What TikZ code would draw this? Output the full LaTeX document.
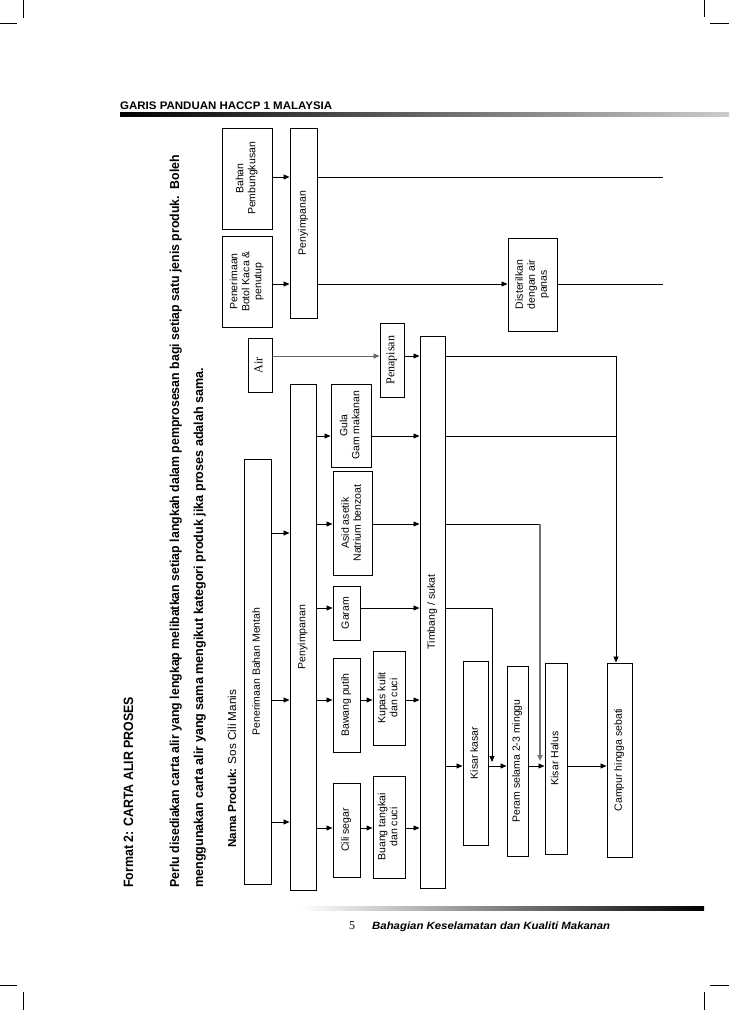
\documentclass[tikz,border=0pt]{standalone}
\usepackage{fontspec}
\setmainfont{Liberation Sans}
\newfontfamily\serifx{Liberation Serif}
\usetikzlibrary{arrows.meta}
\tikzset{
  box/.style={draw, line width=1pt, inner sep=0pt, font=\fontsize{10.5}{12}\selectfont},
  arr/.style={line width=0.9pt, -{Triangle[length=6pt,width=5pt]}},
  ln/.style={line width=0.9pt},
  graylink/.style={draw=black!60},
  crop/.style={line width=0.9pt},
  rottext/.style={rotate=90, anchor=base west, inner sep=0pt},
}
\newcommand\mybox[6]{\node[box, minimum width={(#4-#2)*1pt}, minimum height={(#5-#3)*1pt}] (#1) at ({(#2+#4)/2},{(#3+#5)/2}) {\rotatebox{90}{\begin{tabular}{@{}c@{}}#6\end{tabular}}};}
\begin{document}
\begin{tikzpicture}[x=1pt, y=-1pt]
\useasboundingbox (0,0) rectangle (729,1010);
% crop marks
\draw[crop] (23,0) -- (23,18) (0,23) -- (17,23);
\draw[crop] (704,0) -- (704,17) (710,23) -- (729,23);
\draw[crop] (0,985) -- (17,985) (23,992) -- (23,1010);
\draw[crop] (710,985) -- (729,985) (704,992) -- (704,1010);
% header / footer
\node[anchor=base west, inner sep=0pt, font=\bfseries\fontsize{11}{13}\selectfont] (hdr) at (120,109) {\resizebox{212pt}{\height}{GARIS PANDUAN HACCP 1 MALAYSIA}};
\shade[left color=black, right color=black!20] (120,112) rectangle (729,116);
\shade[left color=white, right color=black] (300,906) rectangle (704,910);
\node[anchor=base west, inner sep=0pt, font=\serifx\fontsize{12}{14}\selectfont] (pg) at (349,929) {5};
\node[anchor=base west, inner sep=0pt, font=\bfseries\itshape\fontsize{10.5}{12}\selectfont] (ftr) at (372,929) {\resizebox{238pt}{\height}{Bahagian Keselamatan dan Kualiti Makanan}};
% left texts
\node[rottext, font=\bfseries\fontsize{13.5}{15}\selectfont] (ttl) at (133,888) {\resizebox{191pt}{\height}{Format 2: CARTA ALIR PROSES}};
\node[rottext, font=\bfseries\fontsize{13}{15}\selectfont] (p1) at (179,888) {\resizebox{733pt}{\height}{Perlu disediakan carta alir yang lengkap melibatkan setiap langkah dalam pemprosesan bagi setiap satu jenis produk.\ \ Boleh}};
\node[rottext, font=\bfseries\fontsize{13}{15}\selectfont] (p2) at (203,888) {\resizebox{520pt}{\height}{menggunakan carta alir yang sama mengikut kategori produk jika proses adalah sama.}};
\node[rottext, font=\fontsize{11.5}{13}\selectfont] (nama) at (236,848) {\resizebox{158pt}{\height}{\textbf{Nama Produk:} Sos Cili Manis}};
% boxes
\mybox{bahan}{222}{128}{272}{229}{Bahan\\Pembungkusan}
\mybox{botol}{222}{236}{272}{327}{Penerimaan\\Botol Kaca \&\\penutup}
\mybox{pnya}{290}{128}{317}{318}{Penyimpanan}
\mybox{steril}{508}{238}{557}{331}{Disterilkan\\dengan air\\panas}
\mybox{air}{248}{338}{272}{392}{\serifx\fontsize{12}{14}\selectfont Air}
\mybox{penap}{380}{323}{404}{397}{\serifx\fontsize{12}{14}\selectfont Penapisan}
\mybox{pbm}{244}{459}{271}{884}{Penerimaan Bahan Mentah}
\mybox{pnyb}{290}{384}{316}{890}{Penyimpanan}
\mybox{gula}{331}{384}{371}{467}{Gula\\Gam makanan}
\mybox{asid}{333}{471}{372}{575}{Asid asetik\\Natrium benzoat}
\mybox{garam}{333}{586}{360}{640}{Garam}
\mybox{bawang}{333}{658}{360}{752}{Bawang putih}
\mybox{cili}{333}{783}{360}{877}{Cili segar}
\mybox{kupas}{373}{651}{405}{745}{Kupas kulit\\dan cuci}
\mybox{buang}{373}{776}{405}{878}{Buang tangkai\\dan cuci}
\mybox{timb}{420}{336}{445}{888}{Timbang / sukat}
\mybox{kasar}{463}{661}{488}{845}{Kisar kasar}
\mybox{peram}{507}{666}{528}{856}{Peram selama 2-3 minggu}
\mybox{halus}{545}{663}{567}{854}{Kisar Halus}
\mybox{campur}{607}{663}{632}{857}{Campur hingga sebati}
% top group connectors
\coordinate (endA) at (663,177);
\coordinate (endB) at (663,284);
\draw[arr] (bahan.east |- endA) -- (pnya.west |- endA);
\draw[arr] (botol.east |- endB) -- (pnya.west |- endB);
\draw[ln] (pnya.east |- endA) -- (endA);
\draw[arr] (pnya.east |- endB) -- (steril.west |- endB);
\draw[ln] (steril.east |- endB) -- (endB);
% air
\draw[arr, graylink] (air.east |- 0,356) -- (penap.west |- 0,356);
\draw[arr] (penap.east |- 0,356) -- (timb.west |- 0,356);
% raw material
\foreach \yy in {533,700,822} \draw[arr] (pbm.east |- 0,\yy) -- (pnyb.west |- 0,\yy);
\draw[arr] (pnyb.east |- 0,436) -- (gula.west |- 0,436);
\draw[arr] (pnyb.east |- 0,524) -- (asid.west |- 0,524);
\draw[arr] (pnyb.east |- 0,608) -- (garam.west |- 0,608);
\draw[arr] (pnyb.east |- 0,700) -- (bawang.west |- 0,700);
\draw[arr] (pnyb.east |- 0,828) -- (cili.west |- 0,828);
\draw[arr] (gula.east |- 0,436) -- (timb.west |- 0,436);
\draw[arr] (asid.east |- 0,524) -- (timb.west |- 0,524);
\draw[arr] (garam.east |- 0,608) -- (timb.west |- 0,608);
\draw[arr] (bawang.east |- 0,700) -- (kupas.west |- 0,700);
\draw[arr] (kupas.east |- 0,700) -- (timb.west |- 0,700);
\draw[arr] (cili.east |- 0,828) -- (buang.west |- 0,828);
\draw[arr] (buang.east |- 0,828) -- (timb.west |- 0,828);
% right of timbang
\coordinate (m1) at (616,356);
\coordinate (m2) at (616,436);
\draw[ln] (timb.east |- m1) -- (m1);
\draw[ln] (timb.east |- m2) -- (m2);
\draw[arr] (m1) -- (campur.north -| m1);
\coordinate (h1) at (540,524);
\coordinate (h2) at (540,761);
\draw[ln] (timb.east |- h1) -- (h1);
\draw[arr, draw=black!55, line width=1.6pt] (h1) -- (h2);
\coordinate (k1) at (492,608);
\coordinate (k2) at (492,762);
\draw[ln] (timb.east |- k1) -- (k1);
\draw[arr] (k1) -- (k2);
\draw[arr] (timb.east |- 0,766) -- (kasar.west |- 0,766);
\draw[arr] (kasar.east |- 0,766) -- (peram.west |- 0,766);
\draw[arr] (peram.east |- 0,766) -- (halus.west |- 0,766);
\draw[arr] (halus.east |- 0,766) -- (campur.west |- 0,766);
\end{tikzpicture}
\end{document}
